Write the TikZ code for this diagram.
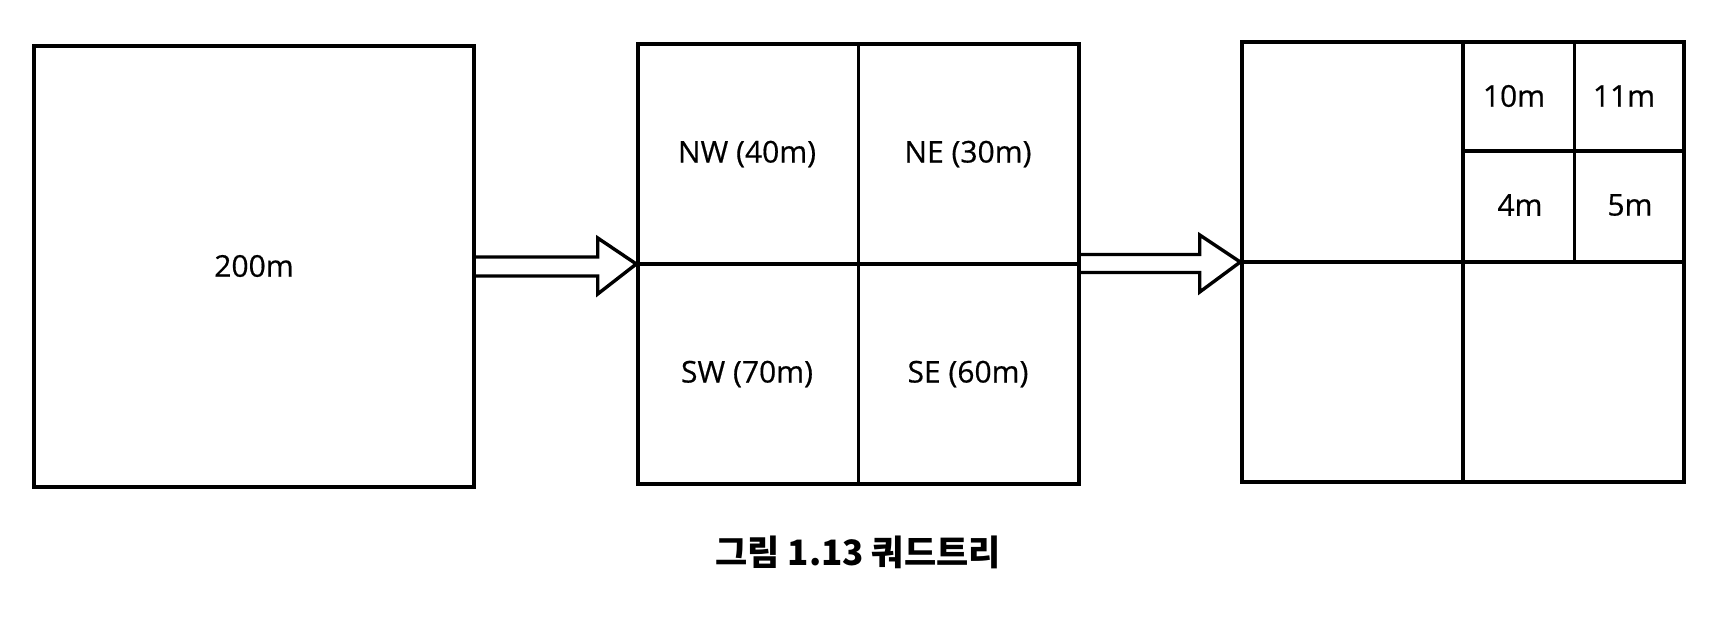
\documentclass[tikz,border=0pt]{standalone}
\usepackage{fontspec}
\setmainfont{Open Sans}
\newfontfamily\lblfont{Open Sans}[FakeBold=0.5]
\newfontfamily\krfont{Noto Sans CJK KR}
\usetikzlibrary{calc}
\tikzset{
  quad/.style={draw=black, line width=3.4pt, rectangle, inner sep=0pt},
  lbl/.style={font=\lblfont\fontsize{30}{35}\selectfont, inner sep=0pt},
  divline/.style={draw=black, line width=3.4pt},
  fatarrow/.style={draw=black, line width=3.4pt, line join=miter},
}
\begin{document}
\begin{tikzpicture}[x=1pt,y=-1pt]
\useasboundingbox (0,0) rectangle (1730,636);
% boxes
\node[quad, minimum width=440pt, minimum height=441pt] (b1) at (254,266.5) {};
\node[quad, minimum width=441pt, minimum height=440pt] (b2) at (858.5,264) {};
\node[quad, minimum width=442pt, minimum height=440pt] (b3) at (1463,262) {};
% dividers box 2
\draw[divline] (b2.north) -- (b2.south);
\draw[divline] (b2.west) -- (b2.east);
% dividers box 3
\draw[divline] (b3.north) -- (b3.south);
\draw[divline] (b3.west) -- (b3.east);
\coordinate (q3t) at ($(b3.north)!0.5!(b3.north east)$);
\coordinate (q3m) at ($(b3.center)!0.5!(b3.east)$);
\coordinate (q3l) at ($(b3.north)!0.5!(b3.center)$);
\coordinate (q3r) at ($(b3.north east)!0.5!(b3.east)$);
\draw[divline] (q3t) -- (q3m);
\draw[divline] (q3l) -- (q3r);
% arrows
\draw[fatarrow] ($(b1.east)+(0,-9.5)$) -- ($(b1.east)+(122,-9.5)$) -- ($(b1.east)+(122,-28.5)$)
  -- (b2.west) -- ($(b1.east)+(122,27.5)$) -- ($(b1.east)+(122,9.5)$) -- ($(b1.east)+(0,9.5)$);
\draw[fatarrow] ($(b2.east)+(0,-9.5)$) -- ($(b2.east)+(119,-9.5)$) -- ($(b2.east)+(119,-29)$)
  -- (b3.west) -- ($(b2.east)+(119,28)$) -- ($(b2.east)+(119,8.5)$) -- ($(b2.east)+(0,8.5)$);
% labels
\node[lbl] (t200) at (254,266) {200m};
\node[lbl] (tnw) at (747,154) {NW (40m)};
\node[lbl] (tne) at (968,154) {NE (30m)};
\node[lbl] (tsw) at (747,374) {SW (70m)};
\node[lbl] (tse) at (968,374) {SE (60m)};
\node[lbl] (t10) at (1514,96) {10m};
\node[lbl] (t11) at (1624,96) {11m};
\node[lbl] (t4) at (1520,205) {4m};
\node[lbl] (t5) at (1630,205) {5m};
% caption
\node[font=\krfont\bfseries\fontsize{35}{40}\selectfont, inner sep=0pt] (cap) at (858,552) {그림 1.13 쿼드트리};
\end{tikzpicture}
\end{document}
